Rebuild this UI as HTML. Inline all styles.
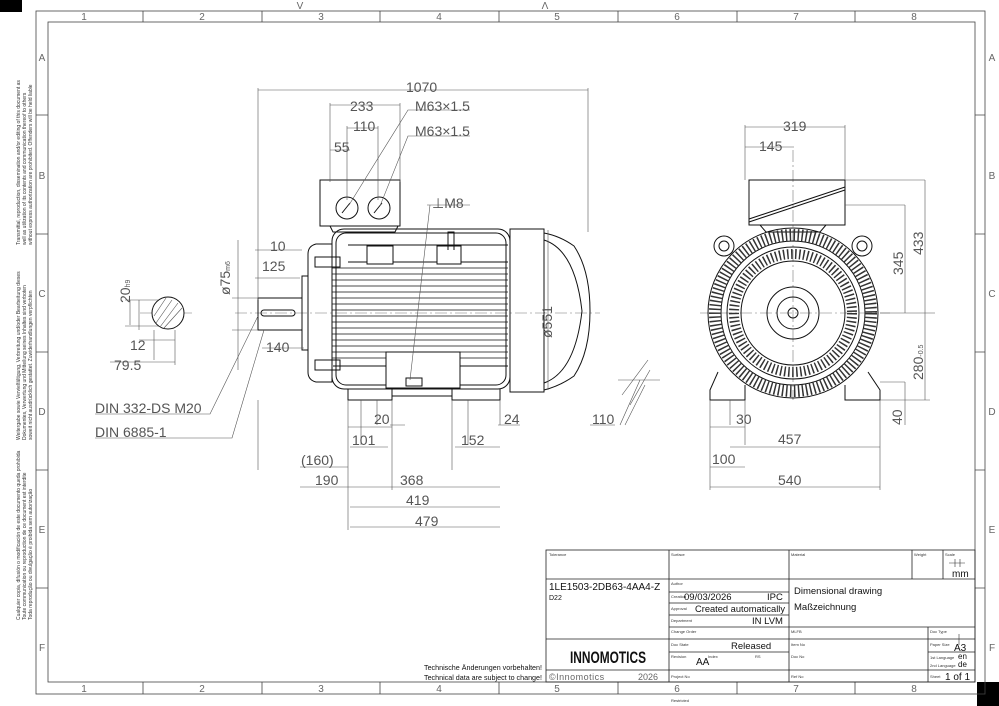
<!DOCTYPE html>
<html><head><meta charset="utf-8"><style>
html,body{margin:0;padding:0;background:#fff;}
svg{display:block;font-family:"Liberation Sans",sans-serif;}
.d{font-size:14px;fill:#555;}
.s{font-size:5px;fill:#333;}
.m{font-size:10px;fill:#111;}
</style></head><body>
<svg width="999" height="706" viewBox="0 0 999 706" xmlns="http://www.w3.org/2000/svg">
<rect x="0" y="0" width="999" height="706" fill="#fff"/>
<rect x="0" y="0" width="22" height="12" fill="#000"/>
<rect x="977" y="682" width="22" height="24" fill="#000"/>
<g fill="none" stroke="#444" stroke-width="0.8">
<rect x="36" y="11" width="949" height="683"/>
<rect x="48" y="22" width="927" height="660"/>
<path d="M143 11V22M262 11V22M380 11V22M499 11V22M618 11V22M737 11V22M855 11V22
M143 682V694M262 682V694M380 682V694M499 682V694M618 682V694M737 682V694M855 682V694
M36 115H48M36 234H48M36 352H48M36 470H48M36 588H48
M975 115H985M975 234H985M975 352H985M975 470H985M975 588H985"/>
</g>
<g font-size="10" fill="#666" text-anchor="middle">
<text x="84" y="20">1</text><text x="202" y="20">2</text><text x="321" y="20">3</text><text x="439" y="20">4</text><text x="557" y="20">5</text><text x="677" y="20">6</text><text x="796" y="20">7</text><text x="914" y="20">8</text>
<text x="84" y="692">1</text><text x="202" y="692">2</text><text x="321" y="692">3</text><text x="439" y="692">4</text><text x="557" y="692">5</text><text x="677" y="692">6</text><text x="796" y="692">7</text><text x="914" y="692">8</text>
<text x="42" y="61">A</text><text x="42" y="179">B</text><text x="42" y="297">C</text><text x="42" y="415">D</text><text x="42" y="533">E</text><text x="42" y="651">F</text>
<text x="992" y="61">A</text><text x="992" y="179">B</text><text x="992" y="297">C</text><text x="992" y="415">D</text><text x="992" y="533">E</text><text x="992" y="651">F</text>
<text x="300" y="9">V</text><text x="545" y="9">Λ</text>
</g>
<g class="s">
<text transform="translate(20,245) rotate(-90)">Transmittal, reproduction, dissemination and/or editing of this document as</text>
<text transform="translate(26,245) rotate(-90)">well as utilization of its contents and communication thereof to others</text>
<text transform="translate(32,245) rotate(-90)">without express authorization are prohibited. Offenders will be held liable</text>
<text transform="translate(20,440) rotate(-90)">Weitergabe sowie Vervielfältigung, Verbreitung und/oder Bearbeitung dieses</text>
<text transform="translate(26,440) rotate(-90)">Dokumentes, Verwertung und Mitteilung seines Inhaltes sind verboten</text>
<text transform="translate(32,440) rotate(-90)">soweit nicht ausdrücklich gestattet. Zuwiderhandlungen verpflichten</text>
<text transform="translate(20,620) rotate(-90)">Cualquier copia, difusión o modificación de este documento queda prohibida</text>
<text transform="translate(26,620) rotate(-90)">Toute communication ou reproduction de ce document est interdite</text>
<text transform="translate(32,620) rotate(-90)">Toda reprodução ou divulgação é proibida sem autorização</text>
</g>
<g stroke="#777" stroke-width="0.6" stroke-dasharray="12 3 2 3" fill="none">
<path d="M235 313H600M700 313H890M793 150V400M140 313H195"/>
</g>
<g fill="none" stroke="#111" stroke-width="1">
<rect x="320" y="180" width="80" height="46"/>
<path d="M330 226L333 232H395L398 226"/>
<circle cx="347" cy="208" r="11"/><circle cx="379" cy="208" r="11"/>
<path d="M342 213L350 203M374 213L382 203"/>
<rect x="332" y="229" width="178" height="160" rx="12"/>
<rect x="336" y="233" width="170" height="152" rx="10"/>
<path d="M348 245H508M348 262H508"/>
<path d="M333 366H508"/>
<g stroke-width="0.8">
<path d="M332 268H508M332 274H508M332 280H508M332 286H508M332 292H508M332 298H508M332 304H508M332 310H508M332 316H508M332 322H508M332 328H508M332 334H508M332 340H508M332 346H508M332 352H508M332 358H508"/>
</g>
<rect x="367" y="246" width="26" height="18" fill="#fff"/>
<rect x="437" y="246" width="24" height="18" fill="#fff"/>
<path d="M448 250V232H454V250"/>
<rect x="386" y="352" width="74" height="36" fill="#fff"/>
<rect x="406" y="378" width="16" height="8"/>
<path d="M316 244Q308 246 308 254V372Q308 380 316 382H332V244Z"/>
<rect x="315" y="257" width="25" height="10"/><rect x="315" y="360" width="25" height="10"/>
<rect x="302" y="276" width="6" height="74"/>
<rect x="258" y="298" width="44" height="32"/>
<rect x="261" y="310" width="34" height="6" rx="3"/>
<rect x="510" y="229" width="34" height="163"/>
<path d="M544 233Q560 236 574 246Q590 270 590 311Q590 352 574 376Q560 386 544 390"/>
<path d="M544 240Q575 250 582 311Q575 372 544 383"/>
<path d="M348 389V400H392V389M452 389V400H500V389M392 396H452"/>
</g>
<g stroke="#555" stroke-width="0.6" fill="none">
<path d="M258 90H588M258 88V300M588 88V232"/>
<path d="M330 105H400M330 103V182M400 103V182"/>
<path d="M347 128H378M347 126V200M378 126V200M330 150H350"/>
<path d="M349 205L408 110H470M380 206L408 136H470"/>
<path d="M427 205H470M430 205L410 380"/>
<path d="M255 250H302M255 278H300M262 348H304"/>
<path d="M232 298H258M232 330H258M238 240V370"/>
<path d="M264 330L232 438H95M258 316L210 414H95"/>
<path d="M548 230V390"/>
<path d="M348 400V530M392 400V490M361 400V445M377 400V425M452 400V470M468 400V445M500 400V425M258 400V470"/>
<path d="M348 427H392M350 447H388M455 447H500M300 467H348M300 487H360M360 487H500M350 507H500M350 527H500M390 425H405M498 425H520M590 425H615"/>
<path d="M620 425L640 380M625 425L645 385M630 405L650 370M622 395L648 360M618 380H660"/>
<path d="M139 300V330M154 330V360M139 340H175M110 362H175M175 330V365M130 300V325M125 300H160M125 326H160"/>
</g>
<circle cx="168" cy="313" r="16" fill="#fff" stroke="#111"/>
<g stroke="#555" stroke-width="0.6"><path d="M156 323L172 300M160 327L178 303M164 328L182 308M154 316L166 298"/></g>
<g fill="none" stroke="#111" stroke-width="1">
<rect x="749" y="180" width="96" height="45"/>
<path d="M749 222L845 190M749 219L845 187"/>
<path d="M760 225L766 232H820L826 225"/>
<circle cx="793" cy="313" r="85"/>
<circle cx="793" cy="313" r="72"/>
<circle cx="793" cy="313" r="66"/>
<circle cx="793" cy="313" r="52"/>
<circle cx="793" cy="313" r="26"/>
<circle cx="793" cy="313" r="16"/>
<circle cx="793" cy="313" r="5"/>
<circle cx="724" cy="246" r="10"/><circle cx="724" cy="246" r="5"/>
<circle cx="862" cy="246" r="10"/><circle cx="862" cy="246" r="5"/>
<path d="M718 372L710 390V400H745V385M868 372L880 390V400H845V385"/>
</g>
<g stroke="#333" stroke-width="0.8" fill="none" stroke-dasharray="1.5 2.5">
<circle cx="793" cy="313" r="78" stroke-width="12"/>
<circle cx="793" cy="313" r="59" stroke-width="10"/>
</g>
<g stroke="#555" stroke-width="0.6" fill="none">
<path d="M745 127H845M745 147H794M745 125V180M845 125V180"/>
<path d="M845 180H925M845 205H905M905 205V313M925 180V400M880 313H935M880 400H930M880 382H905M905 382V425"/>
<path d="M710 400V490M745 400V445M730 400V425M880 400V490M710 427H745M730 447H880M710 467H745M710 487H880"/>
</g>
<g class="d">
<text x="406" y="92">1070</text>
<text x="350" y="111">233</text>
<text x="353" y="131">110</text>
<text x="334" y="152">55</text>
<text x="415" y="111">M63×1.5</text>
<text x="415" y="136">M63×1.5</text>
<text x="432" y="208">⊥M8</text>
<text x="270" y="251">10</text>
<text x="262" y="271">125</text>
<text x="266" y="352">140</text>
<text x="374" y="424">20</text>
<text x="352" y="445">101</text>
<text x="461" y="445">152</text>
<text x="504" y="424">24</text>
<text x="592" y="424">110</text>
<text x="301" y="465">(160)</text>
<text x="315" y="485">190</text>
<text x="400" y="485">368</text>
<text x="406" y="505">419</text>
<text x="415" y="526">479</text>
<text x="130" y="350">12</text>
<text x="114" y="370">79.5</text>
<text x="95" y="413">DIN 332-DS M20</text>
<text x="95" y="437">DIN 6885-1</text>
<text transform="translate(552,338) rotate(-90)">ø551</text>
<text transform="translate(230,295) rotate(-90)">ø75<tspan font-size="7">m6</tspan></text>
<text transform="translate(130,303) rotate(-90)">20<tspan font-size="7">h9</tspan></text>
<text x="783" y="131">319</text>
<text x="759" y="151">145</text>
<text x="736" y="424">30</text>
<text x="778" y="444">457</text>
<text x="712" y="464">100</text>
<text x="778" y="485">540</text>
<text transform="translate(903,275) rotate(-90)">345</text>
<text transform="translate(923,255) rotate(-90)">433</text>
<text transform="translate(923,380) rotate(-90)">280<tspan font-size="7">-0.5</tspan></text>
<text transform="translate(902,425) rotate(-90)">40</text>
</g>
<g fill="none" stroke="#222" stroke-width="0.8">
<rect x="546" y="550" width="429" height="132"/>
<path d="M546 579H975M669 550V682M789 550V682M912 550V579M943 550V579M669 592H789M669 603H789M669 615H789M546 639H669M546 670H669M669 627H975M669 639H975M669 652H789M669 670H975M928 627V682M928 652H975"/>
</g>
<g font-size="4" fill="#333">
<text x="549" y="556">Tolerance</text><text x="671" y="556">Surface</text><text x="791" y="556">Material</text><text x="914" y="556">Weight</text><text x="945" y="556">Scale</text>
<text x="671" y="585">Author</text><text x="671" y="598">Creation</text><text x="671" y="610">Approval</text><text x="671" y="622">Department</text>
<text x="671" y="633">Change Order</text><text x="791" y="633">MLFB</text><text x="930" y="633">Doc Type</text>
<text x="671" y="646">Doc State</text><text x="791" y="646">Item No</text><text x="930" y="646">Paper Size</text>
<text x="671" y="658">Revision</text><text x="708" y="658">Index</text><text x="755" y="658">RS</text><text x="791" y="658">Doc No</text>
<text x="930" y="659">1st Language</text><text x="930" y="667">2nd Language</text>
<text x="671" y="678">Project No</text><text x="791" y="678">Ref No</text><text x="930" y="678">Sheet</text>
<text x="671" y="702">Restricted</text>
</g>
<g class="m">
<text x="952" y="577">mm</text>
<text x="549" y="590">1LE1503-2DB63-4AA4-Z</text>
<text x="549" y="600" font-size="7">D22</text>
<text x="684" y="600" font-size="9.5">09/03/2026</text><text x="767" y="600" font-size="9.5">IPC</text>
<text x="695" y="612" font-size="9.5" textLength="90" lengthAdjust="spacingAndGlyphs">Created automatically</text>
<text x="752" y="624" font-size="9.5">IN LVM</text>
<text x="794" y="594" font-size="9.5">Dimensional drawing</text>
<text x="794" y="610" font-size="9.5">Maßzeichnung</text>
<text x="731" y="649" font-size="9.5">Released</text>
<text x="696" y="665">AA</text>
<text x="954" y="651">A3</text>
<text x="958" y="659" font-size="8">en</text><text x="958" y="667" font-size="8">de</text>
<text x="945" y="680">1 of 1</text>
<text x="549" y="680" fill="#666" font-size="9" letter-spacing="0.5">©Innomotics</text><text x="638" y="680" fill="#666" font-size="9">2026</text>
<text x="424" y="670" font-size="7.5" textLength="118" lengthAdjust="spacingAndGlyphs">Technische Änderungen vorbehalten!</text>
<text x="424" y="680" font-size="7.5" textLength="118" lengthAdjust="spacingAndGlyphs">Technical data are subject to change!</text>
</g>
<text x="570" y="663" font-size="17" font-weight="bold" fill="#111" textLength="76" lengthAdjust="spacingAndGlyphs">INNOMOTICS</text>
<g stroke="#333" fill="none" stroke-width="0.6"><path d="M949 563H965M955 559V567M960 559V567"/><path d="M959 634V645"/></g>
</svg>
</body></html>
